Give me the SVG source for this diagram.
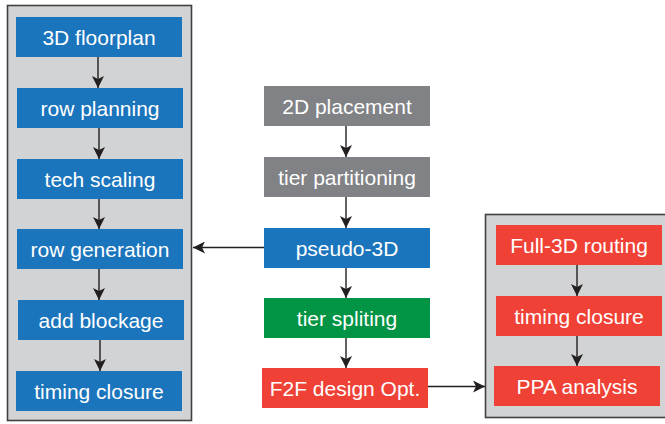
<svg xmlns="http://www.w3.org/2000/svg" width="665" height="424" viewBox="0 0 665 424">
  <style>
    .panel { fill: #D1D3D4; stroke: #414042; stroke-width: 1.6; }
    .blue { fill: #1B75BC; }
    .gray { fill: #808285; }
    .green { fill: #009444; }
    .red { fill: #EF4136; }
    .label { fill: #FFFFFF; font-family: "Liberation Sans", Arial, sans-serif; font-size: 21px; text-anchor: middle; }
    .wire { stroke: #231F20; stroke-width: 1.4; fill: none; marker-end: url(#head); }
  </style>
  <defs>
    <marker id="head" viewBox="0 0 12 12" refX="12" refY="6" markerWidth="12" markerHeight="12" markerUnits="userSpaceOnUse" orient="auto">
      <path d="M0,0 L12,6 L0,12 L3,6 Z" fill="#231F20"/>
    </marker>
  </defs>

  <rect width="665" height="424" fill="#FFFFFF"/>

  <!-- grouping panels -->
  <rect class="panel" x="7.5" y="5.5" width="184" height="415"/>
  <rect class="panel" x="485.5" y="214.5" width="185" height="203"/>

  <!-- left column: 3D floorplan flow -->
  <g id="floorplan3d"><rect class="blue" x="16" y="17" width="166" height="40"/><text class="label" x="99" y="44.5">3D floorplan</text></g>
  <g id="rowPlanning"><rect class="blue" x="17" y="88" width="166" height="40"/><text class="label" x="100" y="115.5">row planning</text></g>
  <g id="techScaling"><rect class="blue" x="17" y="159" width="166" height="40"/><text class="label" x="100" y="186.5">tech scaling</text></g>
  <g id="rowGeneration"><rect class="blue" x="17" y="229" width="166" height="40"/><text class="label" x="100" y="256.5">row generation</text></g>
  <g id="addBlockage"><rect class="blue" x="18" y="300" width="166" height="40"/><text class="label" x="101" y="327.5">add blockage</text></g>
  <g id="timingClosureL"><rect class="blue" x="16" y="371" width="166" height="40"/><text class="label" x="99" y="398.5">timing closure</text></g>

  <!-- middle column: main flow -->
  <g id="placement2d"><rect class="gray" x="264" y="86" width="166" height="40"/><text class="label" x="347" y="113.5">2D placement</text></g>
  <g id="tierPartitioning"><rect class="gray" x="264" y="157" width="166" height="40"/><text class="label" x="347" y="184.5">tier partitioning</text></g>
  <g id="pseudo3d"><rect class="blue" x="264" y="228" width="166" height="40"/><text class="label" x="347" y="255.5">pseudo-3D</text></g>
  <g id="tierSpliting"><rect class="green" x="264" y="298" width="166" height="40"/><text class="label" x="347" y="325.5">tier spliting</text></g>
  <g id="f2fOpt"><rect class="red" x="262" y="368" width="166" height="40"/><text class="label" x="345" y="395.5">F2F design Opt.</text></g>

  <!-- right column: routing and sign-off -->
  <g id="routing3d"><rect class="red" x="496" y="225" width="166" height="40"/><text class="label" x="579" y="252.5">Full-3D routing</text></g>
  <g id="timingClosureR"><rect class="red" x="496" y="296" width="166" height="40"/><text class="label" x="579" y="323.5">timing closure</text></g>
  <g id="ppaAnalysis"><rect class="red" x="494" y="366" width="166" height="40"/><text class="label" x="577" y="393.5">PPA analysis</text></g>

  <g id="connectors">
    <line class="wire" x1="98" y1="57" x2="98" y2="88"/>
    <line class="wire" x1="99" y1="128" x2="99" y2="159"/>
    <line class="wire" x1="99" y1="199" x2="99" y2="229"/>
    <line class="wire" x1="99" y1="269" x2="99" y2="300"/>
    <line class="wire" x1="100" y1="340" x2="100" y2="371"/>

    <line class="wire" x1="346" y1="126" x2="346" y2="157"/>
    <line class="wire" x1="346" y1="197" x2="346" y2="228"/>
    <line class="wire" x1="346" y1="268" x2="346" y2="298"/>
    <line class="wire" x1="346" y1="338" x2="346" y2="368"/>

    <line class="wire" x1="264" y1="247.5" x2="193" y2="247.5"/>
    <line class="wire" x1="428" y1="386.5" x2="485" y2="386.5"/>

    <line class="wire" x1="577" y1="265" x2="577" y2="296"/>
    <line class="wire" x1="577" y1="336" x2="577" y2="366"/>
  </g>
</svg>
